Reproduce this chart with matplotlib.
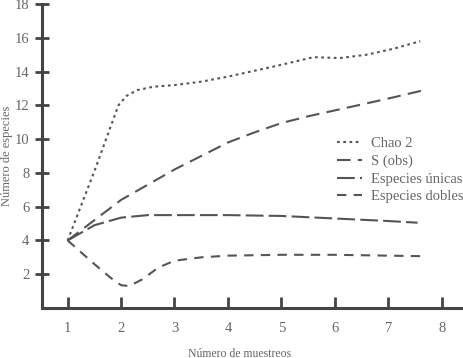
import matplotlib
matplotlib.use("Agg")
import matplotlib.pyplot as plt

# valores
chao_x = [1, 1.5, 1.8, 1.95, 2.1, 2.3, 2.6, 3, 3.5, 4, 4.5, 5, 5.6, 6.1, 6.6, 7.1, 7.6]
chao_y = [4, 8.1, 10.7, 12.0, 12.55, 12.9, 13.1, 13.2, 13.4, 13.7, 14.05, 14.4, 14.85, 14.8, 15.0, 15.35, 15.8]

sobs_x = [1, 1.5, 2, 2.5, 3, 3.5, 4, 4.5, 5, 5.5, 6, 6.5, 7, 7.67]
sobs_y = [4, 5.2, 6.4, 7.3, 8.2, 9.0, 9.8, 10.4, 10.95, 11.35, 11.7, 12.05, 12.4, 12.9]

unicas_x = [1, 1.5, 2, 2.5, 3, 4, 5, 6, 7, 7.55]
unicas_y = [4, 4.9, 5.35, 5.5, 5.5, 5.5, 5.45, 5.3, 5.15, 5.05]

dobles_x = [1, 1.5, 1.8, 2, 2.15, 2.4, 2.7, 3, 3.5, 4, 5, 6, 7, 7.6]
dobles_y = [4, 2.6, 1.8, 1.35, 1.3, 1.7, 2.4, 2.8, 3.0, 3.1, 3.15, 3.15, 3.1, 3.07]

labels = ['Chao 2', 'S (obs)', 'Especies únicas', 'Especies dobles']

plt.rcParams['font.family'] = 'Liberation Serif'
gris = '#555555'
texto = '#666666'

fig = plt.figure(figsize=(4.63, 3.58), dpi=100)
ax = fig.add_axes([42/463, 1-308/358, 1-42/463, 304/358])

ax.plot(chao_x, chao_y, color=gris, lw=1.5, dashes=(1.3, 1.7), label=labels[0])
ax.plot(sobs_x, sobs_y, color=gris, lw=1.5, dashes=(6.5, 3.5), label=labels[1])
ax.plot(unicas_x, unicas_y, color=gris, lw=1.5, dashes=(8.5, 2.5), label=labels[2])
ax.plot(dobles_x, dobles_y, color=gris, lw=1.5, dashes=(4.5, 3.5), label=labels[3])

ax.set_xlim(0.52, 8.4)
ax.set_ylim(0, 18)
ax.set_xticks(range(1, 9))
ax.set_yticks(range(2, 19, 2))

for s in ['top', 'right']:
    ax.spines[s].set_visible(False)
for s in ['left', 'bottom']:
    ax.spines[s].set_linewidth(2.2)
    ax.spines[s].set_color('#444444')

ax.tick_params(axis='x', direction='in', length=8, width=2, color='#444444',
               labelsize=10.5, labelcolor=texto, pad=10)
ax.tick_params(axis='y', direction='inout', length=10, width=2, color='#444444',
               labelsize=10.5, labelcolor=texto, pad=4)

ax.set_xlabel('Número de muestreos', fontsize=8.5, color=texto)
ax.xaxis.set_label_coords(0.47, -0.13)
ax.set_ylabel('Número de especies', fontsize=9, color=texto)
ax.yaxis.set_label_coords(-0.068, 0.5)

fig.legend(loc='upper left', bbox_to_anchor=(337/463, 1-137/358), frameon=False,
           fontsize=10.5, handlelength=1.7, handletextpad=0.6, labelspacing=0.3,
           borderpad=0, borderaxespad=0, labelcolor=texto)

fig.savefig('out.png', dpi=100)
